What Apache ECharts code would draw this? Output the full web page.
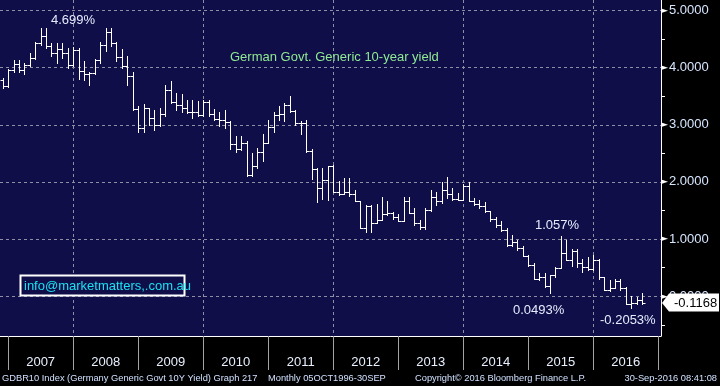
<!DOCTYPE html>
<html><head><meta charset="utf-8">
<script src="https://cdn.jsdelivr.net/npm/echarts@6/dist/echarts.min.js"></script>
<style>html,body{margin:0;padding:0;background:#000;}#c{width:720px;height:386px;}</style>
</head><body><div id="c"></div>
<script>
// Monthly OHLC of German Govt. Generic 10-year yield (Nov 2006 - Sep 2016)
const months = [
 '2006-11','2006-12',
 '2007-01','2007-02','2007-03','2007-04','2007-05','2007-06','2007-07','2007-08','2007-09','2007-10','2007-11','2007-12',
 '2008-01','2008-02','2008-03','2008-04','2008-05','2008-06','2008-07','2008-08','2008-09','2008-10','2008-11','2008-12',
 '2009-01','2009-02','2009-03','2009-04','2009-05','2009-06','2009-07','2009-08','2009-09','2009-10','2009-11','2009-12',
 '2010-01','2010-02','2010-03','2010-04','2010-05','2010-06','2010-07','2010-08','2010-09','2010-10','2010-11','2010-12',
 '2011-01','2011-02','2011-03','2011-04','2011-05','2011-06','2011-07','2011-08','2011-09','2011-10','2011-11','2011-12',
 '2012-01','2012-02','2012-03','2012-04','2012-05','2012-06','2012-07','2012-08','2012-09','2012-10','2012-11','2012-12',
 '2013-01','2013-02','2013-03','2013-04','2013-05','2013-06','2013-07','2013-08','2013-09','2013-10','2013-11','2013-12',
 '2014-01','2014-02','2014-03','2014-04','2014-05','2014-06','2014-07','2014-08','2014-09','2014-10','2014-11','2014-12',
 '2015-01','2015-02','2015-03','2015-04','2015-05','2015-06','2015-07','2015-08','2015-09','2015-10','2015-11','2015-12',
 '2016-01','2016-02','2016-03','2016-04','2016-05','2016-06','2016-07','2016-08','2016-09'
];
const openV = [
 3.78,3.68,
 3.95,4.06,3.95,4.04,4.17,4.42,4.55,4.37,4.26,4.33,4.26,4.04,
 4.31,3.94,3.88,3.91,4.13,4.40,4.62,4.43,4.18,4.02,3.85,3.27,
 2.95,3.29,3.12,2.99,3.18,3.60,3.39,3.34,3.30,3.22,3.23,3.17,
 3.39,3.18,3.10,3.09,3.04,2.67,2.58,2.68,2.12,2.28,2.52,2.68,
 2.96,3.17,3.18,3.35,3.24,3.03,3.03,2.54,2.22,1.89,2.03,2.27,
 1.83,1.79,1.82,1.79,1.66,1.20,1.58,1.29,1.34,1.44,1.46,1.39,
 1.32,1.67,1.45,1.29,1.21,1.51,1.73,1.67,1.86,1.78,1.70,1.69,
 1.93,1.66,1.62,1.57,1.50,1.35,1.24,1.16,0.89,0.95,0.84,0.70,
 0.54,0.30,0.33,0.18,0.37,0.49,0.76,0.64,0.80,0.59,0.52,0.47,
 0.63,0.33,0.11,0.15,0.27,0.14,-0.13,-0.12,-0.07
];
const highV = [
 3.82,3.98,
 4.13,4.13,4.07,4.25,4.44,4.699,4.69,4.43,4.43,4.43,4.34,4.35,
 4.34,4.11,3.93,4.14,4.44,4.69,4.69,4.45,4.32,4.20,3.93,3.32,
 3.37,3.30,3.26,3.29,3.70,3.76,3.55,3.54,3.43,3.44,3.41,3.43,
 3.44,3.28,3.23,3.26,3.06,2.80,2.80,2.71,2.50,2.59,2.84,3.09,
 3.23,3.33,3.38,3.51,3.26,3.06,3.09,2.58,2.24,2.25,2.27,2.29,
 2.01,2.07,2.07,1.86,1.66,1.60,1.60,1.61,1.73,1.66,1.48,1.44,
 1.73,1.73,1.54,1.34,1.54,1.86,1.83,2.00,2.08,1.89,1.80,1.97,
 1.99,1.72,1.68,1.64,1.50,1.38,1.31,1.19,1.07,0.99,0.88,0.72,
 0.58,0.40,0.41,0.37,0.52,1.057,0.99,0.82,0.82,0.66,0.69,0.72,
 0.66,0.33,0.29,0.31,0.30,0.17,0.01,-0.02,0.06
];
const lowV = [
 3.65,3.66,
 3.93,3.92,3.89,4.02,4.14,4.40,4.34,4.20,4.08,4.17,3.99,4.02,
 3.80,3.79,3.69,3.88,4.08,4.28,4.37,4.11,3.99,3.69,3.26,2.88,
 2.87,3.00,2.91,2.98,3.15,3.38,3.26,3.23,3.20,3.12,3.15,3.15,
 3.15,3.08,2.97,2.94,2.58,2.52,2.56,2.11,2.10,2.24,2.36,2.68,
 2.88,3.09,3.06,3.23,3.00,2.83,2.52,2.05,1.64,1.70,1.69,1.83,
 1.77,1.78,1.75,1.66,1.19,1.13,1.13,1.28,1.34,1.42,1.35,1.31,
 1.31,1.45,1.25,1.18,1.17,1.50,1.60,1.63,1.72,1.69,1.68,1.68,
 1.66,1.60,1.55,1.48,1.31,1.22,1.15,0.88,0.88,0.81,0.70,0.53,
 0.30,0.28,0.17,0.0493,0.34,0.49,0.64,0.53,0.52,0.43,0.46,0.46,
 0.31,0.11,0.10,0.14,0.11,-0.13,-0.2053,-0.13,-0.13
];
const closeV = [
 3.68,3.95,
 4.06,3.95,4.04,4.17,4.42,4.55,4.37,4.26,4.33,4.26,4.04,4.31,
 3.94,3.88,3.91,4.13,4.40,4.62,4.43,4.18,4.02,3.85,3.27,2.95,
 3.29,3.12,2.99,3.18,3.60,3.39,3.34,3.30,3.22,3.23,3.17,3.39,
 3.18,3.10,3.09,3.04,2.67,2.58,2.68,2.12,2.28,2.52,2.68,2.96,
 3.17,3.18,3.35,3.24,3.03,3.03,2.54,2.22,1.89,2.03,2.27,1.83,
 1.79,1.82,1.79,1.66,1.20,1.58,1.29,1.34,1.44,1.46,1.39,1.32,
 1.67,1.45,1.29,1.21,1.51,1.73,1.67,1.86,1.78,1.70,1.69,1.93,
 1.66,1.62,1.57,1.50,1.35,1.24,1.16,0.89,0.95,0.84,0.70,0.54,
 0.30,0.33,0.18,0.37,0.49,0.76,0.64,0.80,0.59,0.52,0.47,0.63,
 0.33,0.11,0.15,0.27,0.14,-0.13,-0.12,-0.07,-0.1168
];
const years = ['2007','2008','2009','2010','2011','2012','2013','2014','2015','2016'];
const gridYears = ['2008','2010','2012','2014','2016'];
const yGridValues = [0, 1, 2, 3, 4, 5];
const yMinorTicks = [-0.5, 0.5, 1.5, 2.5, 3.5, 4.5];
const lastValue = -0.1168;
const titleText = 'German Govt. Generic 10-year yield';
const footer = ['GDBR10 Index (Germany Generic Govt 10Y Yield) Graph 217','Monthly 05OCT1996-30SEP','Copyright\u00a9 2016 Bloomberg Finance L.P.','30-Sep-2016 08:41:08'];

const FONT = '"Liberation Sans", Arial, sans-serif';
const NAVY = '#100e48';
const GRIDC = '#8e8ea4';
const Y_MIN = -0.694, Y_MAX = 5.18;
const X_MIN = -1.5, X_MAX = 120.5;

// month label -> position on axis (end of month, months since start of 2007)
function monthPos(m){ const p = m.split('-').map(Number); return (p[0]-2007)*12 + p[1]; }
function yearStart(y){ return (Number(y)-2007)*12; }

const data = months.map((m,i)=>[monthPos(m), openV[i], highV[i], lowV[i], closeV[i]]);
const vGridData = gridYears.map(y=>[yearStart(y)]);
const hGridData = yGridValues.map(v=>[v]);

function renderItem(params, api){
  const x = api.value(0);
  const pH = api.coord([x, api.value(2)]);
  const pL = api.coord([x, api.value(3)]);
  const pO = api.coord([x, api.value(1)]);
  const pC = api.coord([x, api.value(4)]);
  const cx = Math.round(pH[0]) + 0.5;
  const t = 3;
  const st = {stroke:'#ffffff', lineWidth:1};
  const yo = Math.round(pO[1]) + 0.5, yc = Math.round(pC[1]) + 0.5;
  return {type:'group', children:[
    {type:'line', shape:{x1:cx, y1:Math.round(pH[1]), x2:cx, y2:Math.max(Math.round(pL[1])+1, Math.round(pH[1])+1)}, style:st},
    {type:'line', shape:{x1:cx-t, y1:yo, x2:cx, y2:yo}, style:st},
    {type:'line', shape:{x1:cx, y1:yc, x2:cx+t, y2:yc}, style:st}
  ]};
}
function renderVGrid(params, api){
  const x = api.value(0);
  const p1 = api.coord([x, Y_MAX]);
  const p2 = api.coord([x, Y_MIN]);
  const cx = Math.round(p1[0]) + 0.5;
  return {type:'line', shape:{x1:cx, y1:p1[1], x2:cx, y2:p2[1]}, style:{stroke:GRIDC, lineWidth:1, lineDash:[3,3]}};
}
function renderHGrid(params, api){
  const v = api.value(0);
  const p1 = api.coord([X_MIN, v]);
  const p2 = api.coord([X_MAX, v]);
  const cy = Math.round(p1[1]) + 0.5;
  return {type:'line', shape:{x1:p1[0], y1:cy, x2:p2[0], y2:cy}, style:{stroke:GRIDC, lineWidth:1, lineDash:[3,3]}};
}

const chart = echarts.init(document.getElementById('c'), null, {renderer:'canvas', width:720, height:386});
const option = {
  backgroundColor:'#000000',
  animation:false,
  grid:[
    {left:0, top:0, width:661, height:336, show:true, backgroundColor:NAVY, borderWidth:0},
    {left:8.13, top:0, width:650.2, height:336, show:false}
  ],
  xAxis:[
    {gridIndex:0, type:'value', min:X_MIN, max:X_MAX,
     axisLine:{show:true, onZero:false, lineStyle:{color:'#ffffff', width:1}}, axisTick:{show:false}, axisLabel:{show:false}, splitLine:{show:false}},
    {gridIndex:1, type:'category', data:years, boundaryGap:true, position:'bottom',
     axisLine:{show:false, onZero:false}, axisTick:{show:true, length:34, lineStyle:{color:'#a4a4a4', width:1}},
     axisLabel:{color:'#e8f0ff', fontSize:13, fontFamily:FONT, margin:20}, splitLine:{show:false}}
  ],
  yAxis:[
    {gridIndex:0, type:'value', position:'right', min:Y_MIN, max:Y_MAX, splitNumber:6,
     axisLine:{show:true, onZero:false, lineStyle:{color:'#ffffff', width:1}},
     axisTick:{show:true, length:4, customValues:yMinorTicks, lineStyle:{color:'#ffffff'}},
     axisLabel:{margin:0, customValues:yGridValues,
       formatter:v=>'{a|\u25BA}{b|'+Number(v).toFixed(4)+'}',
       rich:{a:{fontSize:9, color:'#ffffff', fontFamily:'DejaVu Sans'}, b:{fontSize:13, color:'#d6e6ff', fontFamily:FONT, padding:[0,0,0,1]}}},
     splitLine:{show:false}},
    {gridIndex:1, type:'value', show:false, axisLine:{onZero:false}}
  ],
  series:[
    {type:'custom', name:'hgrid', xAxisIndex:0, yAxisIndex:0, data:hGridData, renderItem:renderHGrid, clip:false, z:1, silent:true},
    {type:'custom', name:'vgrid', xAxisIndex:0, yAxisIndex:0, data:vGridData, renderItem:renderVGrid, clip:false, z:1, silent:true},
    {type:'custom', name:'GDBR10', xAxisIndex:0, yAxisIndex:0, data:data, renderItem:renderItem, clip:false, z:5}
  ]
};
chart.setOption(option);

const py = chart.convertToPixel({xAxisIndex:0, yAxisIndex:0}, [0, lastValue])[1];
const txt = (s,x,y,fill,size,align)=>({type:'text', z:100, x:x, y:y,
  style:{text:s, fill:fill, font:size+'px '+FONT, verticalAlign:'middle', align:align||'left'}});
chart.setOption({graphic:[
  txt('4.699%', 51, 20, '#e4edff', 13),
  txt(titleText, 230, 57, '#8fea92', 13),
  txt('1.057%', 535, 225, '#e4edff', 13),
  txt('0.0493%', 513, 310.5, '#e4edff', 13),
  txt('-0.2053%', 600, 320.5, '#e4edff', 13),
  {type:'rect', z:99, shape:{x:20.5, y:275.5, width:164, height:20}, style:{fill:NAVY, stroke:'#ffffff', lineWidth:2}},
  txt('info@marketmatters,.com.au', 24, 286, '#18e2f2', 13),
  {type:'polygon', z:99, shape:{points:[[662,py],[669,py-9.5],[719,py-9.5],[719,py+8.5],[669,py+8.5]]}, style:{fill:'#ffffff'}},
  txt(lastValue.toFixed(4), 674, py, '#000000', 13),
  txt(footer[0], 2, 378, '#d0e0ff', 9.3),
  txt(footer[1], 268, 378, '#d0e0ff', 9.3),
  txt(footer[2], 415, 378, '#d0e0ff', 9.3),
  txt(footer[3], 717, 378, '#d0e0ff', 9.3, 'right')
]});
</script></body></html>
